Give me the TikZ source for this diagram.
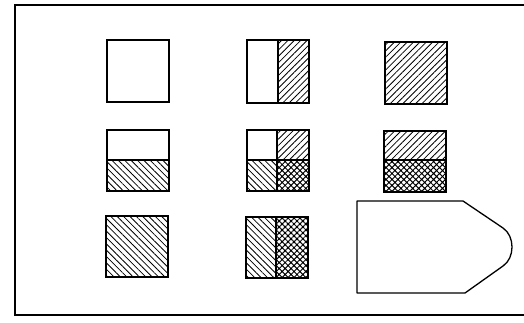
\documentclass[tikz,border=0pt]{standalone}
\usetikzlibrary{patterns.meta}
\begin{document}
\begin{tikzpicture}[x=1pt,y=-1pt,
  box/.style={draw, line width=1.3pt},
  frame/.style={draw, line width=1.7pt},
  hne/.style={pattern={Lines[angle=45,distance=4.5pt,line width=0.8pt]}},
  hnw/.style={pattern={Lines[angle=-45,distance=4.5pt,line width=0.8pt]}},
  hx/.style={pattern={Hatch[angle=45,distance=4.2pt,line width=1pt]}}]
\useasboundingbox (0,0) rectangle (524,322);
\fill[white] (0,0) rectangle (524,322);
\draw[frame] (530,5) -- (15,5) -- (15,315) -- (530,315);
% row 1
\draw[box] (107,40) rectangle (169,102);
\fill[hne] (278,40) rectangle (309,103);
\draw[box] (247,40) rectangle (309,103);
\draw[box] (278,40) -- (278,103);
\fill[hne] (385,42) rectangle (447,104);
\draw[box] (385,42) rectangle (447,104);
% row 2
\fill[hnw] (107,160) rectangle (169,191);
\draw[box] (107,130) rectangle (169,191);
\draw[box] (107,160) -- (169,160);
\fill[hne] (277,130) rectangle (309,160);
\fill[hnw] (247,160) rectangle (277,191);
\fill[hx] (277,160) rectangle (309,191);
\draw[box] (247,130) rectangle (309,191);
\draw[box] (247,160) -- (309,160);
\draw[box] (277,130) -- (277,191);
\fill[hne] (384,131) rectangle (446,160);
\fill[hx] (384,160) rectangle (446,192);
\draw[box] (384,131) rectangle (446,192);
\draw[box] (384,160) -- (446,160);
% row 3
\fill[hnw] (106,216) rectangle (168,277);
\draw[box] (106,216) rectangle (168,277);
\fill[hnw] (246,217) rectangle (276,278);
\fill[hx] (276,217) rectangle (308,278);
\draw[box] (246,217) rectangle (308,278);
\draw[box] (276,217) -- (276,278);
% pentagon
\draw[box, line join=round] (357,201) -- (463,201) -- (503,228)
  .. controls (515,236) and (515,258) .. (503,266)
  -- (465,293) -- (357,293) -- cycle;
\end{tikzpicture}
\end{document}
